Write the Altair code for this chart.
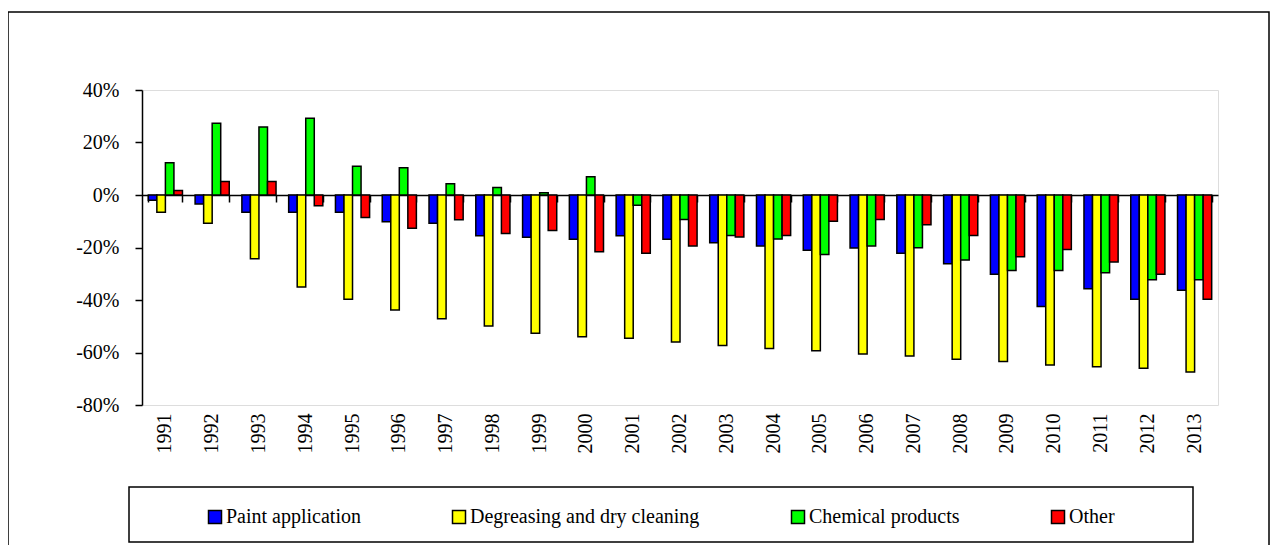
import altair as alt
import pandas as pd

years = ["1991", "1992", "1993", "1994", "1995", "1996", "1997", "1998", "1999", "2000",
         "2001", "2002", "2003", "2004", "2005", "2006", "2007", "2008", "2009", "2010",
         "2011", "2012", "2013"]
series_names = ["Paint application", "Degreasing and dry cleaning", "Chemical products", "Other"]
colors = ["#0000FF", "#FFFF00", "#00FF00", "#FF0000"]

paint = [-2.0, -3.4, -6.6, -6.6, -6.6, -10.2, -10.8, -15.5, -16.1, -16.9, -15.5, -16.9,
         -18.2, -19.4, -21.0, -20.2, -22.2, -26.2, -30.2, -42.5, -35.7, -39.7, -36.3]
degreasing = [-6.6, -10.8, -24.3, -35.0, -39.7, -43.8, -47.1, -49.9, -52.7, -54.0, -54.6, -56.0,
              -57.3, -58.5, -59.3, -60.6, -61.3, -62.6, -63.4, -64.8, -65.4, -66.0, -67.4]
chemical = [12.3, 27.3, 25.9, 29.2, 11.0, 10.4, 4.3, 2.9, 0.9, 7.0, -3.9, -9.3,
            -15.4, -16.8, -22.7, -19.4, -20.1, -24.8, -28.8, -28.8, -29.6, -32.3, -32.3]
other = [1.7, 5.1, 5.1, -4.1, -8.6, -12.7, -9.4, -14.7, -13.5, -21.6, -22.2, -19.4,
         -16.0, -15.4, -10.0, -9.3, -11.3, -15.4, -23.5, -20.8, -25.5, -30.2, -39.7]
y_ticks = [-80, -60, -40, -20, 0, 20, 40]

rows = []
for name, vals in zip(series_names, [paint, degreasing, chemical, other]):
    for yr, v in zip(years, vals):
        rows.append({"year": yr, "series": name, "value": v})
df = pd.DataFrame(rows)

W, H = 1076, 315
FONT = "'Liberation Serif', 'Times New Roman', 'DejaVu Serif', serif"

x_scale = alt.Scale(domain=years, paddingInner=0.27, paddingOuter=0.135)
y_scale = alt.Scale(domain=[-80, 40], nice=False)

bars = alt.Chart(df).mark_bar(stroke="black", strokeWidth=1.5).encode(
    x=alt.X("year:N", scale=x_scale, sort=years,
            axis=alt.Axis(title=None, orient="bottom", labelAngle=270, domain=False, ticks=False,
                          labelPadding=8, labelFontSize=20, labelFont=FONT, labelColor="black")),
    xOffset=alt.XOffset("series:N", sort=series_names,
                        scale=alt.Scale(domain=series_names, paddingInner=0, paddingOuter=0)),
    y=alt.Y("value:Q", scale=y_scale,
            axis=alt.Axis(title=None, values=y_ticks, labelExpr="datum.value + '%'", grid=False,
                          domainColor="black", domainWidth=1.5, tickColor="black", tickSize=7,
                          tickWidth=1.5, labelPadding=16, labelFontSize=20, labelFont=FONT,
                          labelColor="black")),
    color=alt.Color("series:N", sort=series_names,
                    scale=alt.Scale(domain=series_names, range=colors),
                    legend=alt.Legend(title=None, orient="none", legendX=63, legendY=417,
                                      direction="horizontal", columns=4, columnPadding=88,
                                      symbolType="square", symbolSize=169,
                                      symbolStrokeColor="black", symbolStrokeWidth=1.5,
                                      labelFontSize=20, labelFont=FONT, labelColor="black",
                                      labelOffset=1, labelLimit=400)),
)

zero_axis = alt.Chart(pd.DataFrame({"year": years})).mark_point(opacity=0).encode(
    x=alt.X("year:N", scale=x_scale, sort=years,
            axis=alt.Axis(title=None, orient="bottom", offset=-210, labels=False, domain=True,
                          domainColor="black", domainWidth=1.5, ticks=True, tickBand="extent",
                          tickSize=7, tickColor="black", tickWidth=1.5)),
    y=alt.datum(0, scale=y_scale),
)

one = pd.DataFrame({"k": [0]})
frame = alt.Chart(one).mark_rect(filled=False, stroke="black", strokeWidth=1.5).encode(
    x=alt.value(-134), x2=alt.value(1127), y=alt.value(-78), y2=alt.value(480))
legend_box = alt.Chart(one).mark_rect(filled=False, stroke="black", strokeWidth=1.5).encode(
    x=alt.value(-13), x2=alt.value(1051), y=alt.value(397), y2=alt.value(452))

chart = alt.layer(frame, legend_box, bars, zero_axis).resolve_axis(x="independent").properties(
    width=W, height=H,
    padding={"left": 134, "top": 82, "right": 52, "bottom": 140},
    autosize=alt.AutoSizeParams(type="none"),
).configure_view(stroke="#8c8c8c", strokeWidth=1).configure(font=FONT, background="white")

chart.save("out.html", embed_options={"renderer": "svg", "actions": False})
